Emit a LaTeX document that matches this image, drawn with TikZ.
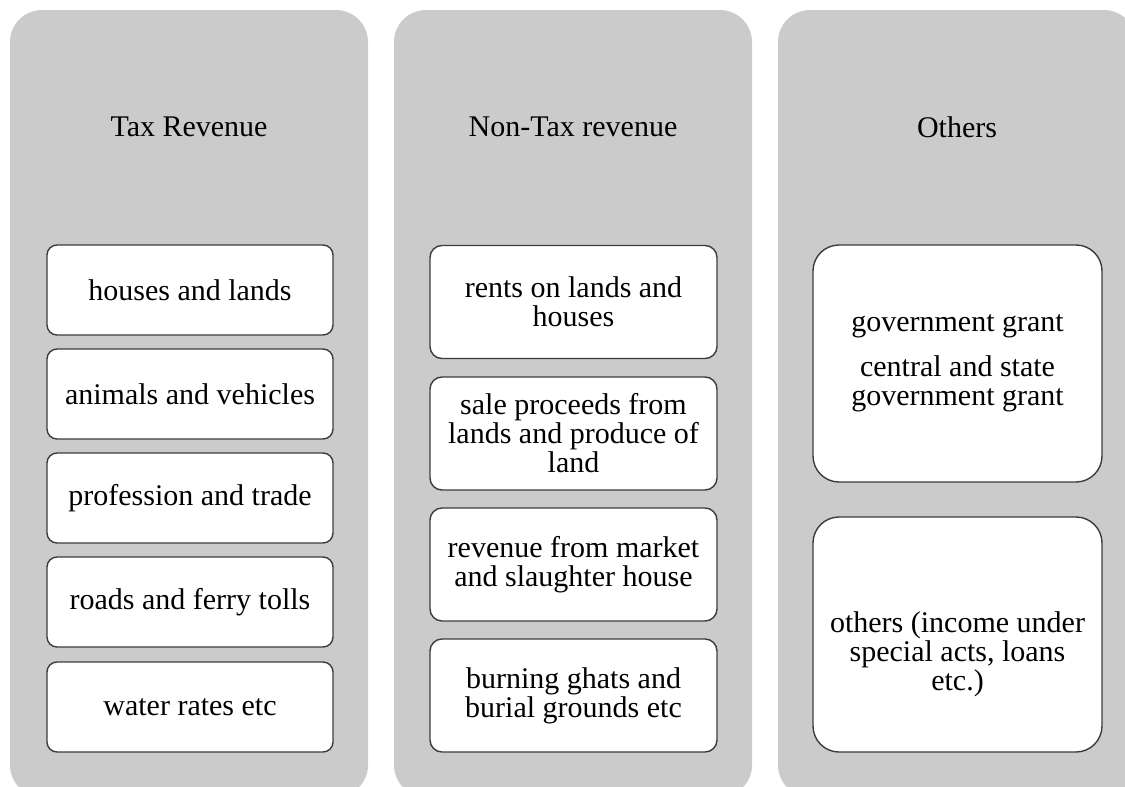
\documentclass[tikz,border=0pt]{standalone}
\usepackage{fontspec}
\setmainfont{Liberation Serif}
\definecolor{panel}{RGB}{203,203,203}
\definecolor{edge}{RGB}{60,60,60}
\begin{document}
\begin{tikzpicture}[x=1pt,y=-1pt,
  panelbox/.style={fill=panel, draw=none, rounded corners=32pt,
    minimum width=358pt, minimum height=787pt, inner sep=0pt},
  itembox/.style={draw=edge, fill=white, line width=1.4pt, rounded corners=#1,
    font=\fontsize{30}{29}\selectfont, align=center, inner sep=0pt},
  itembox/.default=10pt,
  lbl/.style={font=\fontsize{30}{29}\selectfont, align=center, inner sep=0pt},
]
\useasboundingbox (0,0) rectangle (1125,787);
\begin{scope}
\clip (0,0) rectangle (1125,787);
% three grey panels
\node[panelbox] (tax)    at (189,403.5) {};
\node[panelbox] (nontax) at (573,403.5) {};
\node[panelbox] (other)  at (957,403.5) {};

% panel headings
\node[lbl] (taxh)    at (189,127) {Tax Revenue};
\node[lbl] (nontaxh) at (573,127) {Non-Tax revenue};
\node[lbl] (otherh)  at (957,127) {Others};

% tax revenue items
\begin{scope}[every node/.append style={minimum width=286pt, minimum height=90pt}]
\node[itembox] (t1) at (190,290) {houses and lands};
\node[itembox] (t2) at (190,394) {animals and vehicles};
\node[itembox] (t3) at (190,498) {profession and trade};
\node[itembox] (t4) at (190,602) {roads and ferry tolls};
\node[itembox] (t5) at (190,707) {water rates etc};
\end{scope}

% non-tax revenue items
\begin{scope}[every node/.append style={minimum width=287pt, minimum height=113pt}]
\node[itembox=12pt] (n1) at (573.5,302) {rents on lands and\\houses};
\node[itembox=12pt] (n2) at (573.5,433.5) {sale proceeds from\\lands and produce of\\land};
\node[itembox=12pt] (n3) at (573.5,564.5) {revenue from market\\and slaughter house};
\node[itembox=12pt] (n4) at (573.5,695.5) {burning ghats and\\burial grounds etc};
\end{scope}

% other items
\node[itembox=26pt, minimum width=289pt, minimum height=237pt] (o1) at (957.5,363.5)
  {government grant\\[16pt]central and state\\government grant};
\node[itembox=26pt, minimum width=289pt, minimum height=235pt] (o2) at (957.5,634.5) {};
\node[lbl] (o2t) at ([yshift=-20pt]o2.center) {others (income under\\special acts, loans\\etc.)};
\end{scope}
\end{tikzpicture}
\end{document}
